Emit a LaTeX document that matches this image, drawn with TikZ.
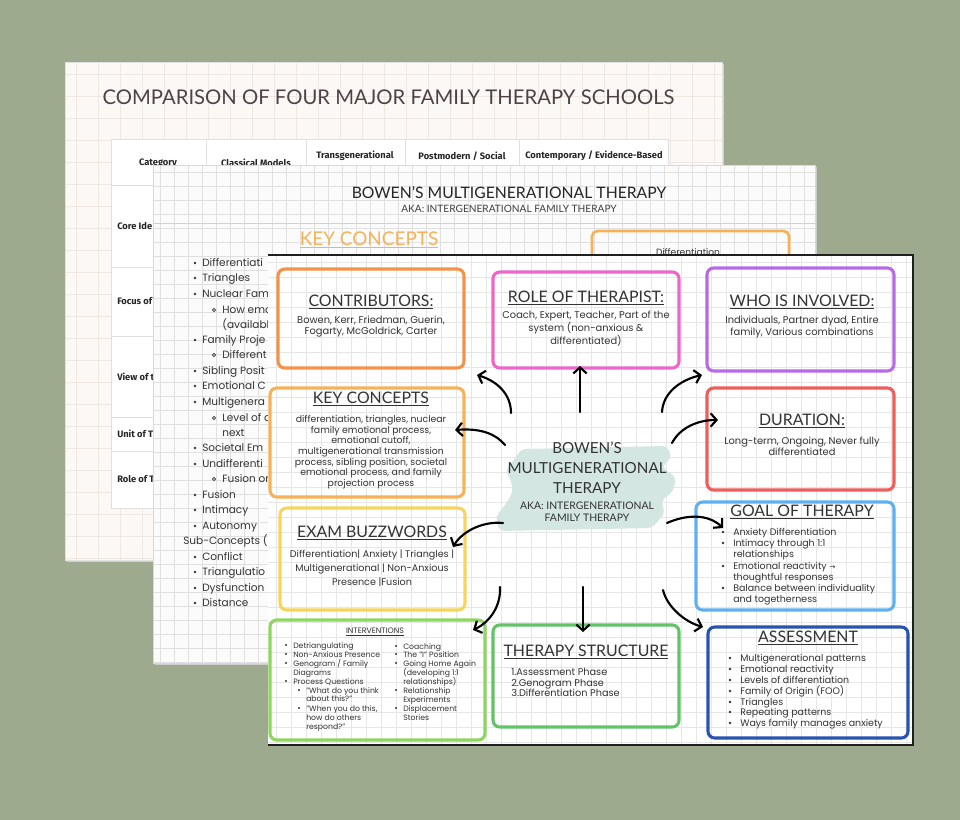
\documentclass[tikz,border=0pt]{standalone}
\usepackage{fontspec}
\setmainfont{Poppins}
\newfontfamily\titlefont{Lato}
\newfontfamily\headfont{Fira Sans}
\newfontfamily\symfont{DejaVu Sans}
\usetikzlibrary{arrows.meta}
\definecolor{bgc}{HTML}{9DAA8E}
\definecolor{paperA}{HTML}{FBF8F5}
\definecolor{gridA}{HTML}{EFE8E2}
\definecolor{paperB}{HTML}{FBFBFB}
\definecolor{gridB}{HTML}{E0E0E0}
\definecolor{gridC}{HTML}{E6E6E6}
\definecolor{ink}{HTML}{333333}
\definecolor{titleA}{HTML}{4E4248}
\definecolor{cOrange}{HTML}{F4924A}
\definecolor{cPink}{HTML}{EC67C8}
\definecolor{cPurple}{HTML}{B86AE6}
\definecolor{cAmber}{HTML}{F6B257}
\definecolor{cRed}{HTML}{EE5E5A}
\definecolor{cYellow}{HTML}{F7D55C}
\definecolor{cLBlue}{HTML}{5FB0F2}
\definecolor{cLGreen}{HTML}{8ED65F}
\definecolor{cGreen}{HTML}{62C467}
\definecolor{cDBlue}{HTML}{2A52B0}
\definecolor{blob}{HTML}{D3E6E2}
\tikzset{
  box/.style={draw, line width=2.3pt, rounded corners=5pt, inner sep=0pt},
  ttl/.style={font=\titlefont\fontsize{11.9}{13}\selectfont, text=ink, inner sep=0pt},
  body/.style={font=\fontsize{7.4}{8.3}\selectfont, text=ink, align=center, inner sep=0pt},
  li/.style={font=\fontsize{7.1}{8}\selectfont, text=ink, anchor=west, inner sep=0pt, text height=0.7em, text depth=0.2em},
  lis/.style={font=\fontsize{5.8}{6.5}\selectfont, text=ink, anchor=west, inner sep=0pt, text height=0.7em, text depth=0.2em},
  mli/.style={font=\fontsize{7.9}{9}\selectfont, text=ink, anchor=west, inner sep=0pt, text height=0.7em, text depth=0.2em},
  th/.style={font=\headfont\bfseries\fontsize{7}{8}\selectfont, text=black!85, inner sep=0pt},
  ctr/.style={font=\titlefont\fontsize{11.4}{13}\selectfont, text=ink, inner sep=0pt},
  arr/.style={line width=1.6pt, line cap=round, -{Straight Barb[length=4.5pt,width=10pt,line width=1.6pt]}},
  gl/.style={line width=0.45pt},
}
\begin{document}
\begin{tikzpicture}[x=0.75pt,y=-0.75pt]
\useasboundingbox (0,0) rectangle (960,820);
\fill[bgc] (0,0) rectangle (960,820);

% ---------------- back sheet ----------------
\fill[black!18] (67,64) rectangle (724,562);
\fill[paperA] (65,62) rectangle (722,560);
\begin{scope}
  \clip (65,62) rectangle (722,560);
  \foreach \x in {76,98,...,720} \draw[gl,gridA] (\x,62) -- (\x,560);
  \foreach \y in {74,96,...,558} \draw[gl,gridA] (65,\y) -- (722,\y);
\end{scope}
\draw[line width=0.6pt, black!12] (65,62) rectangle (722,560);
\node[font=\titlefont\fontsize{15.2}{17}\selectfont, text=titleA, inner sep=0pt] (cmpTitle) at (388.5,97) {COMPARISON OF FOUR MAJOR FAMILY THERAPY SCHOOLS};
\fill[white] (111,139) rectangle (668,508);
\draw[line width=0.6pt, black!12] (111,139) rectangle (668,508);
\foreach \x in {206,306,405,519} \draw[line width=0.6pt, black!12] (\x,139) -- (\x,508);
\foreach \y in {185,267,336,417,451} \draw[line width=0.6pt, black!12] (111,\y) -- (668,\y);
\node[th] (hCat) at (158,163) {Category};
\node[th] (hCls) at (256,163) {Classical Models};
\node[th] (hTrn) at (355,156) {Transgenerational};
\node[th] (hPst) at (462,156) {Postmodern / Social};
\node[th] (hCon) at (594,156) {Contemporary / Evidence-Based};
\begin{scope}
  \clip (111,185) rectangle (153,508);
  \node[th, anchor=west] (rCore) at (117,226) {Core Ide};
  \node[th, anchor=west] (rFoc) at (117,301) {Focus of};
  \node[th, anchor=west] (rView) at (117,377) {View of t};
  \node[th, anchor=west] (rUnit) at (117,434) {Unit of T};
  \node[th, anchor=west] (rRole) at (117,479) {Role of T};
\end{scope}

% ---------------- middle sheet ----------------
\fill[black!20] (155,167) rectangle (817,665);
\fill[paperB] (153,165) rectangle (815,663);
\begin{scope}
  \clip (153,165) rectangle (815,663);
  \foreach \x in {160,174,...,814} \draw[gl,gridB] (\x,165) -- (\x,663);
  \foreach \y in {172,186,...,662} \draw[gl,gridB] (153,\y) -- (815,\y);
\end{scope}
\draw[line width=0.7pt, black!18] (153,223) -- (815,223);
\draw[line width=0.6pt, black!15] (153,165) rectangle (815,663);
\node[font=\titlefont\fontsize{11.8}{13}\selectfont, text=black!85, inner sep=0pt] (midTitle) at (509,193) {BOWEN’S MULTIGENERATIONAL THERAPY};
\node[font=\titlefont\fontsize{7.6}{9}\selectfont, text=black!75, inner sep=0pt] (midSub) at (509,209) {AKA: INTERGENERATIONAL FAMILY THERAPY};
\node[font=\titlefont\fontsize{14.2}{16}\selectfont, text=cAmber, inner sep=0pt] (midKC) at (369,240) {\underline{KEY CONCEPTS}};
\draw[cAmber, line width=2pt, rounded corners=4pt] (592,262) -- (592,231) -- (789,231) -- (789,262);
\node[font=\fontsize{6.8}{8}\selectfont, text=ink, inner sep=0pt] (midDiff) at (688,252) {Differentiation};
\begin{scope}
  \clip (153,224) rectangle (268,663);
  \foreach \y/\t [count=\i] in {263/Differentiati, 278/Triangles, 294/Nuclear Fam, 340/Family Proje, 371/Sibling Posit, 386/Emotional C, 402/Multigenera, 448/Societal Em, 464/Undifferenti, 495/Fusion, 510/Intimacy, 526/Autonomy, 557/Conflict, 572/Triangulatio, 588/Dysfunction, 603/Distance}{
    \fill[ink] (195,\y) circle[radius=1.1pt];
    \node[mli] (mb\i) at (202,\y) {\t};
  }
  \foreach \y/\t [count=\i] in {310/How emo, 355/Different, 418/Level of d, 479/Fusion or}{
    \draw[ink, line width=0.5pt] (214,\y) circle[radius=1.2pt];
    \node[mli] (ms\i) at (222,\y) {\t};
  }
  \node[mli] (mc1) at (222,325) {(availabl};
  \node[mli] (mc2) at (222,433) {next};
  \node[mli] (mh1) at (183,541) {Sub-Concepts (};
\end{scope}

% ---------------- front sheet ----------------
\fill[white] (268,255) rectangle (913,745);
\begin{scope}
  \clip (268,255) rectangle (913,745);
  \foreach \x in {276,291,...,912} \draw[gl,gridC] (\x,255) -- (\x,745);
  \foreach \y in {262,277,...,744} \draw[gl,gridC] (268,\y) -- (913,\y);
\end{scope}
\draw[line width=1.8pt, black!88] (268,255) -- (913,255) -- (913,745) -- (268,745);

% center blob
\fill[blob, rounded corners=4pt] (521,449) -- (667,446) -- (672,458) -- (661,467) -- (676,477) -- (673,492) -- (661,500) -- (665,513) -- (652,528) -- (499,531) -- (496,516) -- (506,504) -- (513,492) -- (511,480) -- (505,470) -- (515,459) -- cycle;
\node[ctr] (c1) at (587,448) {BOWEN’S};
\node[ctr] (c2) at (587,468) {MULTIGENERATIONAL};
\node[ctr] (c3) at (587,488) {THERAPY};
\node[font=\titlefont\fontsize{7.8}{9}\selectfont, text=ink, inner sep=0pt] (c4) at (587,506) {AKA: INTERGENERATIONAL};
\node[font=\titlefont\fontsize{7.8}{9}\selectfont, text=ink, inner sep=0pt] (c5) at (587,518) {FAMILY THERAPY};

% boxes
\node[box, draw=cOrange, minimum width=139.5pt, minimum height=74.25pt] (contrib) at (371,318.5) {};
\node[box, draw=cPink, minimum width=139.5pt, minimum height=72pt] (role) at (586,320) {};
\node[box, draw=cPurple, minimum width=140.25pt, minimum height=77.25pt] (who) at (800.5,319.5) {};
\node[box, draw=cAmber, minimum width=145.5pt, minimum height=81.75pt] (keyc) at (367,442.5) {};
\node[box, draw=cRed, minimum width=140.25pt, minimum height=76.5pt] (dur) at (800.5,439) {};
\node[box, draw=cYellow, minimum width=138.75pt, minimum height=76.5pt] (exam) at (372.5,559) {};
\node[box, draw=cLBlue, minimum width=148.5pt, minimum height=81pt] (goal) at (795,556) {};
\node[box, draw=cLGreen, minimum width=161.25pt, minimum height=90pt] (interv) at (377.5,680) {};
\node[box, draw=cGreen, minimum width=139.5pt, minimum height=76.5pt] (struct) at (586,676) {};
\node[box, draw=cDBlue, minimum width=150pt, minimum height=83.25pt] (assess) at (808,682.5) {};

% contributors
\node[ttl] (contribT) at (371,302) {\underline{CONTRIBUTORS:}};
\node[body] (contribB) at (371,326.5) {Bowen, Kerr, Friedman, Guerin,\\Fogarty, McGoldrick, Carter};
% role
\node[ttl] (roleT) at (586,298) {\underline{ROLE OF THERAPIST:}};
\node[body, font=\fontsize{7.4}{8.6}\selectfont] (roleB) at (586,328.5) {Coach, Expert, Teacher, Part of the\\system (non-anxious \&\\differentiated)};
% who
\node[ttl] (whoT) at (802,302) {\underline{WHO IS INVOLVED:}};
\node[body] (whoB) at (802,327) {Individuals, Partner dyad, Entire\\family, Various combinations};
% key concepts
\node[ttl] (keycT) at (371,399) {\underline{KEY CONCEPTS}};
\node[body, font=\fontsize{7}{8}\selectfont] (keycB) at (371,452) {differentiation, triangles, nuclear\\family emotional process,\\emotional cutoff,\\multigenerational transmission\\process, sibling position, societal\\emotional process, and family\\projection process};
% duration
\node[ttl] (durT) at (802,421) {\underline{DURATION:}};
\node[body] (durB) at (802,446.5) {Long-term, Ongoing, Never fully\\differentiated};
% exam
\node[ttl] (examT) at (372,533) {\underline{EXAM BUZZWORDS}};
\node[body, font=\fontsize{7.2}{10.5}\selectfont] (examB) at (372,568.5) {Differentiation| Anxiety | Triangles |\\Multigenerational | Non-Anxious\\Presence |Fusion};
% goal
\node[ttl] (goalT) at (802,512) {\underline{GOAL OF THERAPY}};
\foreach \y in {532,543,566,588} \fill[ink] (723,\y) circle[radius=1pt];
\foreach \y/\t [count=\i] in {532/Anxiety Differentiation, 543/Intimacy through 1:1, 554/relationships, 566/Emotional reactivity {\symfont\fontsize{5.5}{6}\selectfont →}, 577/thoughtful responses, 588/Balance between individuality, 599/and togetherness}
  \node[li] (gl\i) at (733,\y) {\t};
% assessment
\node[ttl] (assessT) at (808,638) {\underline{ASSESSMENT}};
\foreach \y/\t [count=\i] in {658/Multigenerational patterns, 669/Emotional reactivity, 680/Levels of differentiation, 691/Family of Origin (FOO), 702/Triangles, 712/Repeating patterns, 723/Ways family manages anxiety}{
  \fill[ink] (730,\y) circle[radius=1pt];
  \node[li, font=\fontsize{7.1}{8}\selectfont] (al\i) at (740,\y) {\t};
}
% therapy structure
\node[ttl] (structT) at (586,652) {\underline{THERAPY STRUCTURE}};
\foreach \y/\t [count=\i] in {672/1.Assessment Phase, 683/2.Genogram Phase, 693/3.Differentiation Phase}
  \node[li, font=\fontsize{7.3}{8}\selectfont] (sl\i) at (511,\y) {\t};
% interventions
\node[font=\fontsize{5.9}{7}\selectfont, text=ink, inner sep=0pt] (intervT) at (375,632) {\underline{INTERVENTIONS}};
\foreach \y in {645,654,663,681} \fill[ink] (286,\y) circle[radius=0.8pt];
\foreach \y in {690,708} \fill[ink] (299,\y) circle[radius=0.8pt];
\foreach \y in {646,654,663,690,708} \fill[ink] (396,\y) circle[radius=0.8pt];
\foreach \y/\t [count=\i] in {645/Detriangulating, 654/Non-Anxious Presence, 663/{Genogram / Family}, 672/Diagrams, 681/Process Questions}
  \node[lis] (il\i) at (293,\y) {\t};
\foreach \y/\t [count=\i] in {690/"What do you think, 698/about this?", 708/"When you do this{,}, 717/how do others, 726/respond?"}
  \node[lis] (is\i) at (306,\y) {\t};
\foreach \y/\t [count=\i] in {646/Coaching, 654/The "I" Position, 663/Going Home Again, 672/(developing 1:1, 681/relationships), 690/Relationship, 699/Experiments, 708/Displacement, 717/Stories}
  \node[lis] (ir\i) at (403,\y) {\t};

% arrows
\coordinate (s1) at (511,413); \coordinate (e1) at (477,375);
\coordinate (s2) at (580,412); \coordinate (e2) at (580,366);
\coordinate (s3) at (662,412); \coordinate (e3) at (702,375);
\coordinate (s4) at (505,445); \coordinate (e4) at (455,430);
\coordinate (s5) at (672,443); \coordinate (e5) at (718,420);
\coordinate (s6) at (503,523); \coordinate (e6) at (453,547);
\coordinate (s7) at (667,523); \coordinate (e7) at (723,528);
\coordinate (s8) at (500,587); \coordinate (e8) at (473,630);
\coordinate (s9) at (583,587); \coordinate (e9) at (583,632);
\coordinate (s10) at (663,590); \coordinate (e10) at (703,627);
\draw[arr] (s1) .. controls (511,394) and (497,381) .. (e1);
\draw[arr] (s2) -- (e2);
\draw[arr] (s3) .. controls (663,393) and (680,380) .. (e3);
\draw[arr] (s4) .. controls (496,434) and (481,428) .. (e4);
\draw[arr] (s5) .. controls (680,428) and (697,420) .. (e5);
\draw[arr] (s6) .. controls (485,521) and (463,530) .. (e6);
\draw[arr] (s7) .. controls (685,515) and (707,513) .. (e7);
\draw[arr] (s8) .. controls (501,606) and (490,622) .. (e8);
\draw[arr] (s9) -- (e9);
\draw[arr] (s10) .. controls (667,607) and (685,622) .. (e10);
\end{tikzpicture}
\end{document}
